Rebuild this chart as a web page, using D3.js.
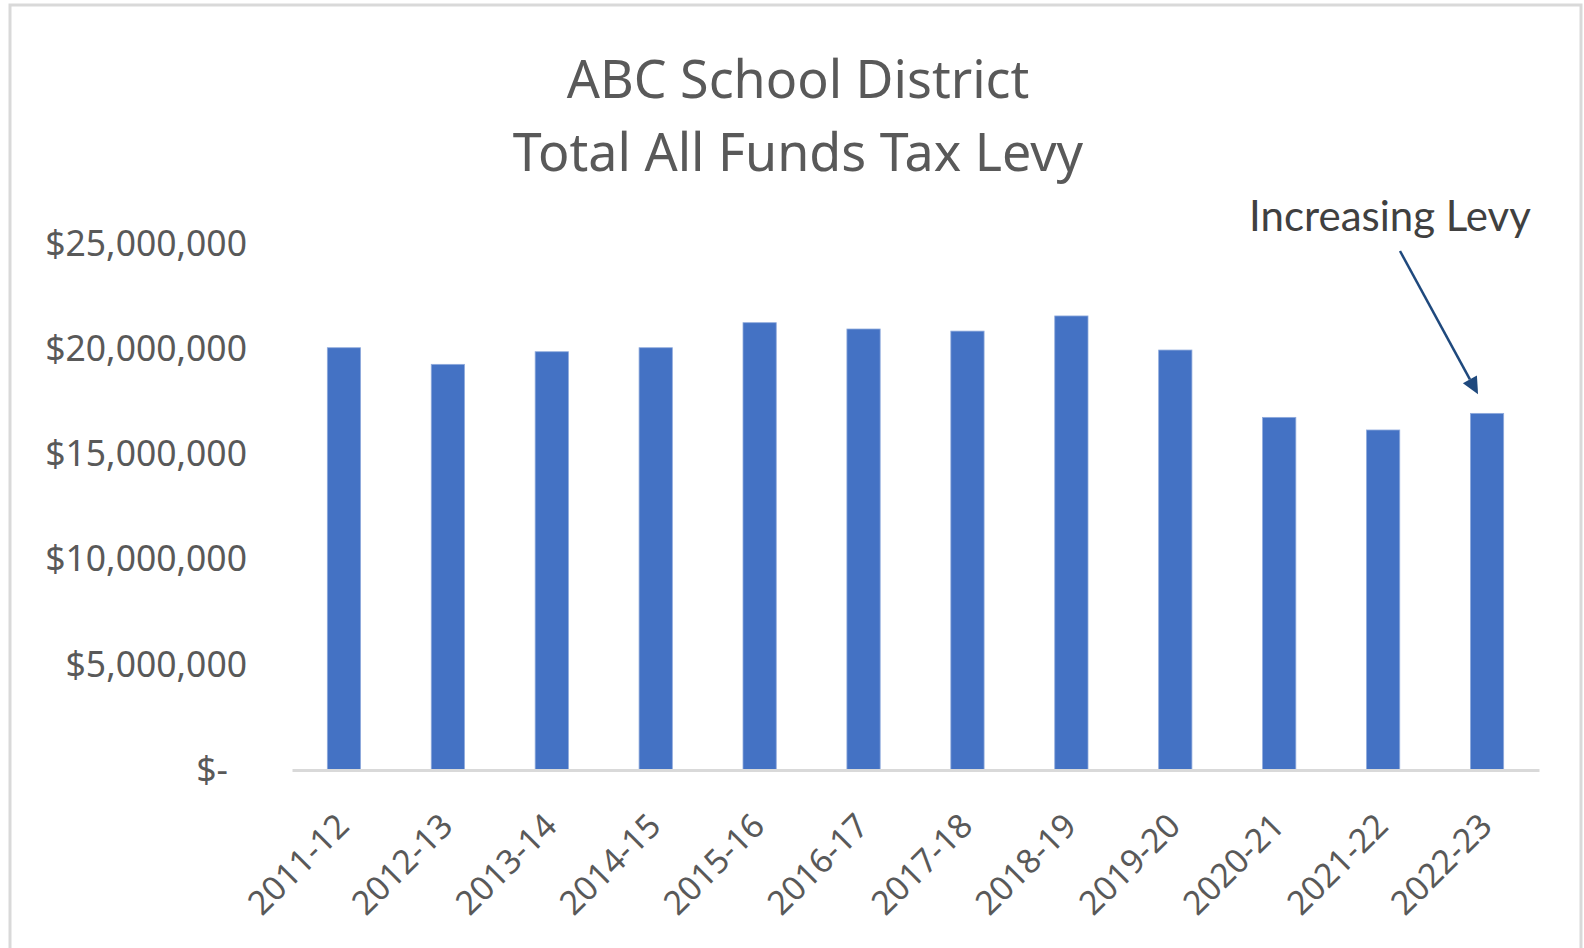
<!DOCTYPE html>
<html><head><meta charset="utf-8">
<script src="https://cdn.jsdelivr.net/npm/d3@7"></script>
<style>html,body{margin:0;padding:0;background:#fff;} svg{display:block;}</style>
</head><body>
<svg id="chart" width="1584" height="948"></svg>
<script>
const categories = ["2011-12","2012-13","2013-14","2014-15","2015-16","2016-17","2017-18","2018-19","2019-20","2020-21","2021-22","2022-23"];
const levy = [20070000, 19280000, 19880000, 20070000, 21260000, 20960000, 20860000, 21580000, 19960000, 16760000, 16160000, 16950000];
const yTicks = [0, 5000000, 10000000, 15000000, 20000000, 25000000];
const titleLines = ["ABC School District", "Total All Funds Tax Levy"];
const annotationText = "Increasing Levy";
const annotatedCategory = "2022-23";

const svg = d3.select("#chart");
const W = 1584, H = 948;
const plot = {left: 292, right: 1539, top: 244, bottom: 770};

svg.append("rect").attr("x",0).attr("y",0).attr("width",W).attr("height",H).attr("fill","#fff");
svg.append("rect").attr("x",10).attr("y",5).attr("width",1571).attr("height",960)
  .attr("fill","none").attr("stroke","#d9d9d9").attr("stroke-width",3);

const x = d3.scaleBand().domain(categories).range([plot.left, plot.right]).paddingInner(0.68).paddingOuter(0.34);
const y = d3.scaleLinear().domain([0, 25000000]).range([plot.bottom, plot.top]);

// title
const title = svg.append("text").attr("text-anchor","middle")
  .attr("font-family","'Noto Sans', 'Open Sans', sans-serif").attr("font-size",52).attr("fill","#595959");
titleLines.forEach((t,i)=>{
  title.append("tspan").attr("x",798).attr("y", i===0 ? 98 : 171).text(t);
});

// y axis
const fmt = d => d === 0 ? "$-" : "$" + d3.format(",")(d);
const yAxis = svg.append("g").attr("transform",`translate(${plot.left},0)`)
  .call(d3.axisLeft(y).tickValues(yTicks).tickFormat(fmt).tickSize(0).tickPadding(45));
yAxis.select(".domain").remove();
yAxis.selectAll("text").attr("font-family","'Noto Sans', 'Open Sans', sans-serif").attr("font-size",35.5).attr("fill","#595959")
  .attr("dx", d => d === 0 ? -19 : 0);

// bars
svg.append("g").selectAll("rect").data(categories).join("rect")
  .attr("x", d => x(d)).attr("width", x.bandwidth())
  .attr("y", (d,i) => y(levy[i])).attr("height", (d,i) => y(0) - y(levy[i]))
  .attr("fill","#4472C4").attr("stroke","#8faadc").attr("stroke-width",0.8);

// x axis
const xAxis = svg.append("g").attr("transform",`translate(0,${plot.bottom})`)
  .call(d3.axisBottom(x).tickSize(0).tickPadding(0));
xAxis.select(".domain").attr("stroke","#d9d9d9").attr("stroke-width",3);
xAxis.selectAll("text").attr("font-family","'Noto Sans', 'Open Sans', sans-serif").attr("font-size",33.5).attr("fill","#595959")
  .attr("text-anchor","end").attr("y",0).attr("dy",0)
  .attr("transform","translate(7,58) rotate(-45)");

// annotation
const ann = svg.append("g");
ann.append("text").attr("x",1390).attr("y",231).attr("text-anchor","middle")
  .attr("font-family","Lato, sans-serif").attr("font-weight",400).attr("font-size",42).attr("fill","#404040").text(annotationText);
const ai = categories.indexOf(annotatedCategory);
const tip = [x(annotatedCategory) + x.bandwidth()/2 - 9, y(levy[ai]) - 19];
const start = [1400, 251];
const dxv = tip[0]-start[0], dyv = tip[1]-start[1];
const len = Math.hypot(dxv, dyv), ux = dxv/len, uy = dyv/len;
const headL = 17, headW = 8;
const base = [tip[0]-ux*headL, tip[1]-uy*headL];
ann.append("line").attr("x1",start[0]).attr("y1",start[1]).attr("x2",base[0]).attr("y2",base[1])
  .attr("stroke","#1f497d").attr("stroke-width",2.5);
ann.append("path").attr("d", `M${tip[0]},${tip[1]} L${base[0]-uy*headW},${base[1]+ux*headW} L${base[0]+uy*headW},${base[1]-ux*headW} Z`)
  .attr("fill","#1f497d");
</script>
</body></html>
